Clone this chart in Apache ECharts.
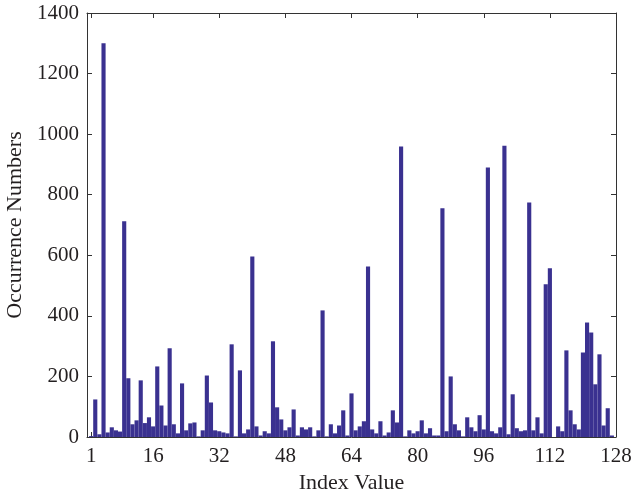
<!DOCTYPE html>
<html><head><meta charset="utf-8">
<script src="https://cdn.jsdelivr.net/npm/echarts@6/dist/echarts.min.js"></script>
<style>html,body{margin:0;padding:0;background:#fff}#c{width:631px;height:494px}</style>
</head><body><div id="c"></div>
<script>
var indexValues = [];
for (var i = 1; i <= 128; i++) indexValues.push(i);
var occurrences = [
  3,124,9,1300,15,32,22,18,712,194,42,55,187,46,65,35,
  233,104,38,293,42,12,177,22,45,48,2,22,203,114,22,19,
  15,12,306,2,220,12,25,596,35,5,19,12,316,98,58,22,
  32,91,5,32,25,32,2,22,418,2,42,12,38,88,5,144,
  22,35,52,563,25,12,52,5,15,88,48,959,2,22,12,19,
  55,12,29,5,5,755,19,200,42,22,2,65,32,19,72,25,
  890,19,12,32,962,9,141,29,19,22,774,22,65,12,504,557,
  0,35,19,286,88,42,25,279,378,345,174,273,38,95,5,0
];
var xTicks = [1,16,32,48,64,80,96,112,128];
var yTicks = [0,200,400,600,800,1000,1200,1400];
var xTitle = 'Index Value';
var yTitle = 'Occurrence Numbers';

var font = 'Liberation Serif';
var axisCol = '#333';
var txtCol = '#231f20';
var data = indexValues.map(function(x, i){ return [x, occurrences[i]]; });

var chart = echarts.init(document.getElementById('c'), null, {renderer:'canvas'});
var baseX = {
  type:'value', min:0, max:128,
  splitLine:{show:false},
  axisLine:{show:true, onZero:false, lineStyle:{color:axisCol, width:1}},
  axisTick:{show:true, inside:true, length:5, customValues:xTicks, lineStyle:{color:axisCol}},
  axisLabel:{show:true, customValues:xTicks, fontFamily:font, fontSize:21, color:txtCol, margin:9}
};
var baseY = {
  type:'value', min:0, max:1400, interval:200,
  splitLine:{show:false},
  axisLine:{show:true, onZero:false, lineStyle:{color:axisCol, width:1}},
  axisTick:{show:true, inside:true, length:5, customValues:yTicks, lineStyle:{color:axisCol}},
  axisLabel:{show:true, customValues:yTicks, formatter:function(v){return String(v);},
    fontFamily:font, fontSize:21, color:txtCol, margin:8}
};
var option = {
  animation:false,
  backgroundColor:'#fff',
  grid:{left:87, right:15, top:13, bottom:57, containLabel:false, outerBoundsMode:'none'},
  xAxis:[
    Object.assign({}, baseX, {position:'bottom', name:xTitle, nameLocation:'middle', nameGap:35,
      nameTextStyle:{fontFamily:font, fontSize:22, color:txtCol}}),
    Object.assign({}, baseX, {position:'top', axisLabel:{show:false}})
  ],
  yAxis:[
    Object.assign({}, baseY, {position:'left', name:yTitle, nameLocation:'middle', nameGap:60,
      nameTextStyle:{fontFamily:font, fontSize:22, color:txtCol}}),
    Object.assign({}, baseY, {position:'right', axisLabel:{show:false}})
  ],
  series:[{
    type:'custom', xAxisIndex:0, yAxisIndex:0,
    data:data,
    encode:{x:0, y:1},
    clip:true,
    renderItem:function(params, api){
      var x = api.value(0), v = api.value(1);
      var p1 = api.coord([x - 0.5, v]);
      var p2 = api.coord([x + 0.5, 0]);
      var rect = echarts.graphic.clipRectByRect(
        {x:p1[0], y:p1[1], width:p2[0]-p1[0], height:p2[1]-p1[1]},
        {x:params.coordSys.x, y:params.coordSys.y, width:params.coordSys.width, height:params.coordSys.height});
      if (!rect) return null;
      return {type:'rect', shape:rect, style:{fill:'#3a3190', stroke:null}};
    }
  }]
};
chart.setOption(option);
</script></body></html>
